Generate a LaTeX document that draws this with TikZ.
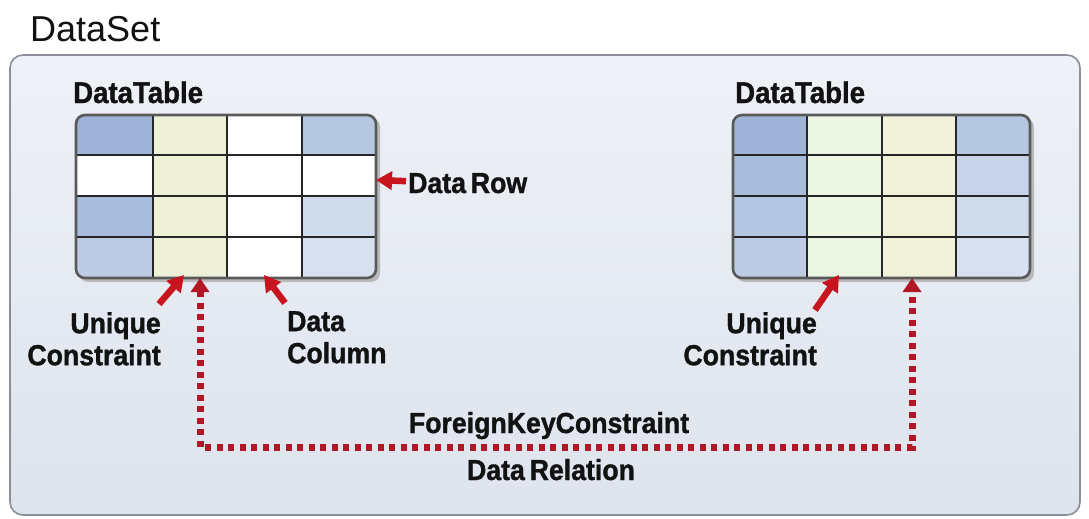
\documentclass[tikz,border=0pt]{standalone}
\usepackage{fontspec}
\setmainfont{Liberation Sans}
\newfontfamily\condfont[FakeStretch=0.92,FakeBold=1.2]{Liberation Sans Bold}
\usetikzlibrary{arrows.meta,calc}
\definecolor{boxtop}{HTML}{EEF1F6}
\definecolor{boxbot}{HTML}{DEE3ED}
\definecolor{boxline}{HTML}{8A8F99}
\definecolor{arrred}{HTML}{C8141E}
\definecolor{dotred}{HTML}{B01828}
\definecolor{txt}{HTML}{121212}
\definecolor{bA}{HTML}{9DB4D6}
\definecolor{bB}{HTML}{A8BDDB}
\definecolor{bC}{HTML}{B3C5E0}
\definecolor{bD}{HTML}{BDCCE4}
\definecolor{lA}{HTML}{B6C7E1}
\definecolor{lB}{HTML}{C6D3E8}
\definecolor{lC}{HTML}{D0DBEC}
\definecolor{lD}{HTML}{D8E1EF}
\definecolor{beige}{HTML}{EEF0D8}
\definecolor{beige2}{HTML}{F2F1DA}
\definecolor{mint}{HTML}{EDF5E3}
\tikzset{
  x=1pt,y=-1pt,
  tablebox/.style={draw=none,rounded corners=9pt,minimum width=300pt,minimum height=163pt,inner sep=0pt},
  tborder/.style={draw=gray!70!black,line width=2.6pt,rounded corners=9pt},
  grid/.style={draw=black!85,line width=1.8pt},
  redarrow/.style={draw=arrred,line width=6.5pt,-{Triangle[length=16pt,width=18pt]}},
  dotarrow/.style={draw=dotred,line width=7pt,dash pattern=on 6pt off 5.5pt,
     {Triangle[length=14pt,width=18pt]}-{Triangle[length=14pt,width=18pt]}},
  lbl/.style={inner sep=0pt,text=txt,font=\condfont\fontsize{29}{32}\selectfont},
  ttl/.style={inner sep=0pt,text=txt,font=\condfont\fontsize{30}{32}\selectfont},
}
\begin{document}
\begin{tikzpicture}
\useasboundingbox (0,0) rectangle (1089,519);
\fill[white] (0,0) rectangle (1089,519);
% DataSet container
\draw[boxline,line width=1.6pt,rounded corners=13pt,top color=boxtop,bottom color=boxbot]
  (10,55) rectangle (1080,515);
\node[inner sep=0pt,anchor=base west,text=txt,font=\fontsize{36}{40}\selectfont] (dsl) at (30,42) {DataSet};

% ---------- Left table ----------
\node[ttl,anchor=base west] (ltt) at (73,103) {DataTable};
\fill[gray!55,rounded corners=9pt] (79,118) rectangle (380,282);
\node[tablebox] (tL) at (226,196.5) {};
\begin{scope}
  \clip[rounded corners=9pt] (76,115) rectangle (376,278);
  \fill[bA] (76,115) rectangle (153,155);
  \fill[white] (76,155) rectangle (153,196);
  \fill[bB] (76,196) rectangle (153,237);
  \fill[bD] (76,237) rectangle (153,278);
  \fill[beige] (153,115) rectangle (227,278);
  \fill[white] (227,115) rectangle (302,278);
  \fill[lA] (302,115) rectangle (376,155);
  \fill[white] (302,155) rectangle (376,196);
  \fill[lC] (302,196) rectangle (376,237);
  \fill[lD] (302,237) rectangle (376,278);
\end{scope}
\foreach \yy in {155,196,237} \draw[grid] (76,\yy) -- (376,\yy);
\foreach \xx in {153,227,302} \draw[grid] (\xx,115) -- (\xx,278);
\draw[tborder] (76,115) rectangle (376,278);

% ---------- Right table ----------
\node[ttl,anchor=base west] (rtt) at (735,103) {DataTable};
\fill[gray!55,rounded corners=9pt] (736,118) rectangle (1034,282);
\node[tablebox,minimum width=297pt] (tR) at (881.5,196.5) {};
\begin{scope}
  \clip[rounded corners=9pt] (733,115) rectangle (1030,278);
  \fill[bA] (733,115) rectangle (807,155);
  \fill[bB] (733,155) rectangle (807,196);
  \fill[bC] (733,196) rectangle (807,237);
  \fill[bD] (733,237) rectangle (807,278);
  \fill[mint] (807,115) rectangle (882,278);
  \fill[beige2] (882,115) rectangle (956,278);
  \fill[lA] (956,115) rectangle (1030,155);
  \fill[lB] (956,155) rectangle (1030,196);
  \fill[lC] (956,196) rectangle (1030,237);
  \fill[lD] (956,237) rectangle (1030,278);
\end{scope}
\foreach \yy in {155,196,237} \draw[grid] (733,\yy) -- (1030,\yy);
\foreach \xx in {807,882,956} \draw[grid] (\xx,115) -- (\xx,278);
\draw[tborder] (733,115) rectangle (1030,278);

% ---------- target points ----------
\coordinate (rowT) at (376,180);
\coordinate (ucL) at (184,275);
\coordinate (dcT) at (264,275);
\coordinate (fkL) at (200,278);
\coordinate (ucR) at (839,275);
\coordinate (fkR) at (912,278);
\coordinate (bend) at (200,447);

% ---------- labels ----------
\node[lbl,anchor=base west] (rowl) at (408,193) {Data\,Row};
\node[lbl,anchor=north east,align=right] (ulL) at (161,312) {Unique\\Constraint};
\node[lbl,anchor=north west,align=left] (dcl) at (287,311) {Data\\Column};
\node[lbl,anchor=north east,align=right] (ulR) at (817,312) {Unique\\Constraint};
\node[lbl,anchor=base] (fkl) at (549,433) {ForeignKeyConstraint};
\node[lbl,anchor=base] (drl) at (551,480) {Data\,Relation};

% ---------- connectors ----------
\draw[redarrow] (rowl.west) ++(-2,-2) coordinate (rowS) (rowS) -- (rowT);
\draw[redarrow] ($(ulL.north east)+(-2,-8)$) coordinate (u1) (u1) -- (ucL);
\draw[redarrow] ($(dcl.north west)+(-2,-8)$) coordinate (d1) (d1) -- (dcT);
\draw[redarrow] ($(ulR.north east)+(-2,-2)$) coordinate (u2) (u2) -- (ucR);
\draw[dotarrow] (fkL) -- (bend) -| (fkR);
\end{tikzpicture}
\end{document}
